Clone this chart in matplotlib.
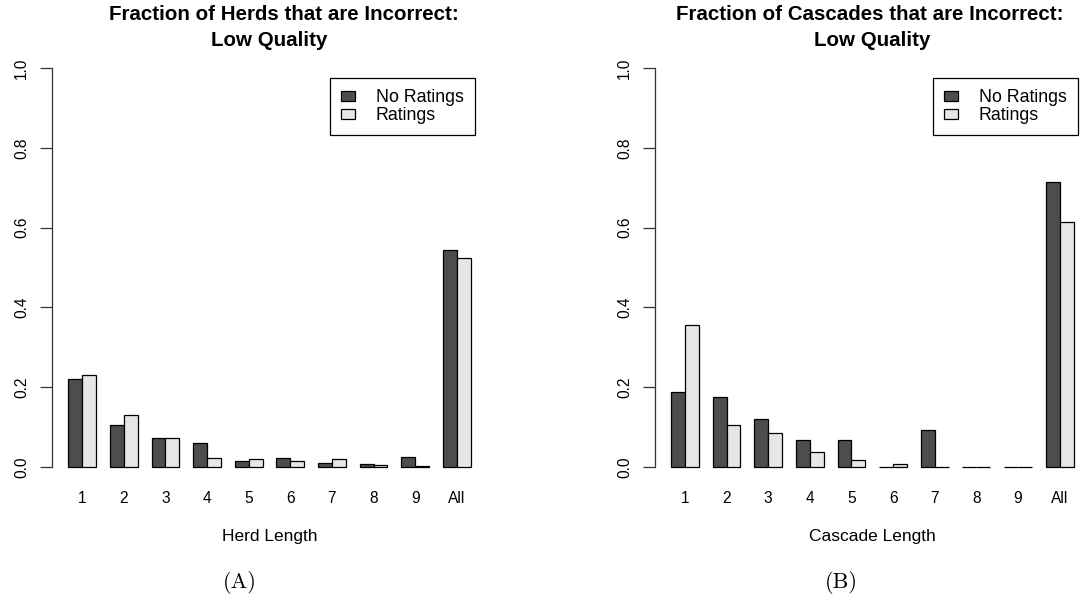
import matplotlib
matplotlib.use("Agg")
import matplotlib.pyplot as plt
import numpy as np

# ---- data ----
categories = ["1", "2", "3", "4", "5", "6", "7", "8", "9", "All"]
series_names = ["No Ratings", "Ratings"]

herd_no_ratings = [0.221, 0.106, 0.072, 0.060, 0.014, 0.023, 0.010, 0.007, 0.026, 0.543]
herd_ratings = [0.231, 0.131, 0.072, 0.023, 0.019, 0.015, 0.019, 0.005, 0.003, 0.524]

cascade_no_ratings = [0.189, 0.175, 0.120, 0.067, 0.067, 0.0, 0.094, 0.0, 0.0, 0.715]
cascade_ratings = [0.355, 0.105, 0.085, 0.038, 0.018, 0.008, 0.0, 0.0, 0.0, 0.614]

yticks = [0.0, 0.2, 0.4, 0.6, 0.8, 1.0]

W, H = 1083, 607
DPI = 100
plt.rcParams['font.family'] = ['Liberation Sans', 'DejaVu Sans']

fig = plt.figure(figsize=(W / DPI, H / DPI), dpi=DPI)

dark = "#4d4d4d"
light = "#e6e6e6"


def px_axes(left, top, right, bottom):
    return fig.add_axes([left / W, 1 - bottom / H, (right - left) / W, (bottom - top) / H])


def panel(ax, v1, v2, xlabel):
    n = len(categories)
    pos = np.arange(n) * 3 + 1
    ax.bar(pos, v1, width=1, align='edge', color=dark, edgecolor='black', linewidth=0.9,
           label=series_names[0])
    ax.bar(pos + 1, v2, width=1, align='edge', color=light, edgecolor='black', linewidth=0.9,
           label=series_names[1])
    ax.set_xlim(-0.16, 31.16)
    ax.set_ylim(-0.04, 1.04)
    ax.set_xticks(pos + 1)
    ax.set_xticklabels(categories)
    ax.set_yticks(yticks)
    ax.set_yticklabels([f"{t:.1f}" for t in yticks])
    for s in ['top', 'right', 'bottom']:
        ax.spines[s].set_visible(False)
    ax.spines['left'].set_bounds(0, 1)
    ax.spines['left'].set_linewidth(0.9)
    ax.spines['left'].set_color('#333333')
    ax.tick_params(axis='x', length=0, pad=5.5, labelsize=11.2)
    ax.tick_params(axis='y', length=8.6, width=0.9, color='#333333', pad=8,
                   labelsize=11.2, labelrotation=90)
    for lab in ax.get_yticklabels():
        lab.set_va('center')
    ax.set_xlabel(xlabel, fontsize=12.5, labelpad=17)
    ax.patch.set_alpha(0)


axA = px_axes(52.2, 52, 486.8, 483)
panel(axA, herd_no_ratings, herd_ratings, "Herd Length")
axB = px_axes(655, 52, 1089.6, 483)
panel(axB, cascade_no_ratings, cascade_ratings, "Cascade Length")

for ax, right in [(axA, 474.7), (axB, 1077.7)]:
    leg = ax.legend(loc='upper right', bbox_to_anchor=(right / W, 1 - 78.3 / H),
                    bbox_transform=fig.transFigure, borderaxespad=0, fontsize=12.8,
                    frameon=True, fancybox=False, framealpha=1, edgecolor='black',
                    handlelength=0.8, handleheight=0.55, handletextpad=1.15,
                    labelspacing=0.05, borderpad=0.62)
    leg.get_frame().set_linewidth(0.9)

title_kw = dict(ha='center', va='center', fontsize=14.8, fontweight='bold')
fig.text(283.5 / W, 1 - 15 / H, "Fraction of Herds that are Incorrect:", **title_kw)
fig.text(269.5 / W, 1 - 41 / H, "Low Quality", **title_kw)
fig.text(869.5 / W, 1 - 15 / H, "Fraction of Cascades that are Incorrect:", **title_kw)
fig.text(872 / W, 1 - 41 / H, "Low Quality", **title_kw)

fig.text(240 / W, 1 - 583 / H, "(A)", ha='center', va='center', fontsize=16,
         family=['cmr10', 'DejaVu Serif'])
fig.text(841 / W, 1 - 583 / H, "(B)", ha='center', va='center', fontsize=16,
         family=['cmr10', 'DejaVu Serif'])

fig.savefig("out.png", dpi=DPI)
